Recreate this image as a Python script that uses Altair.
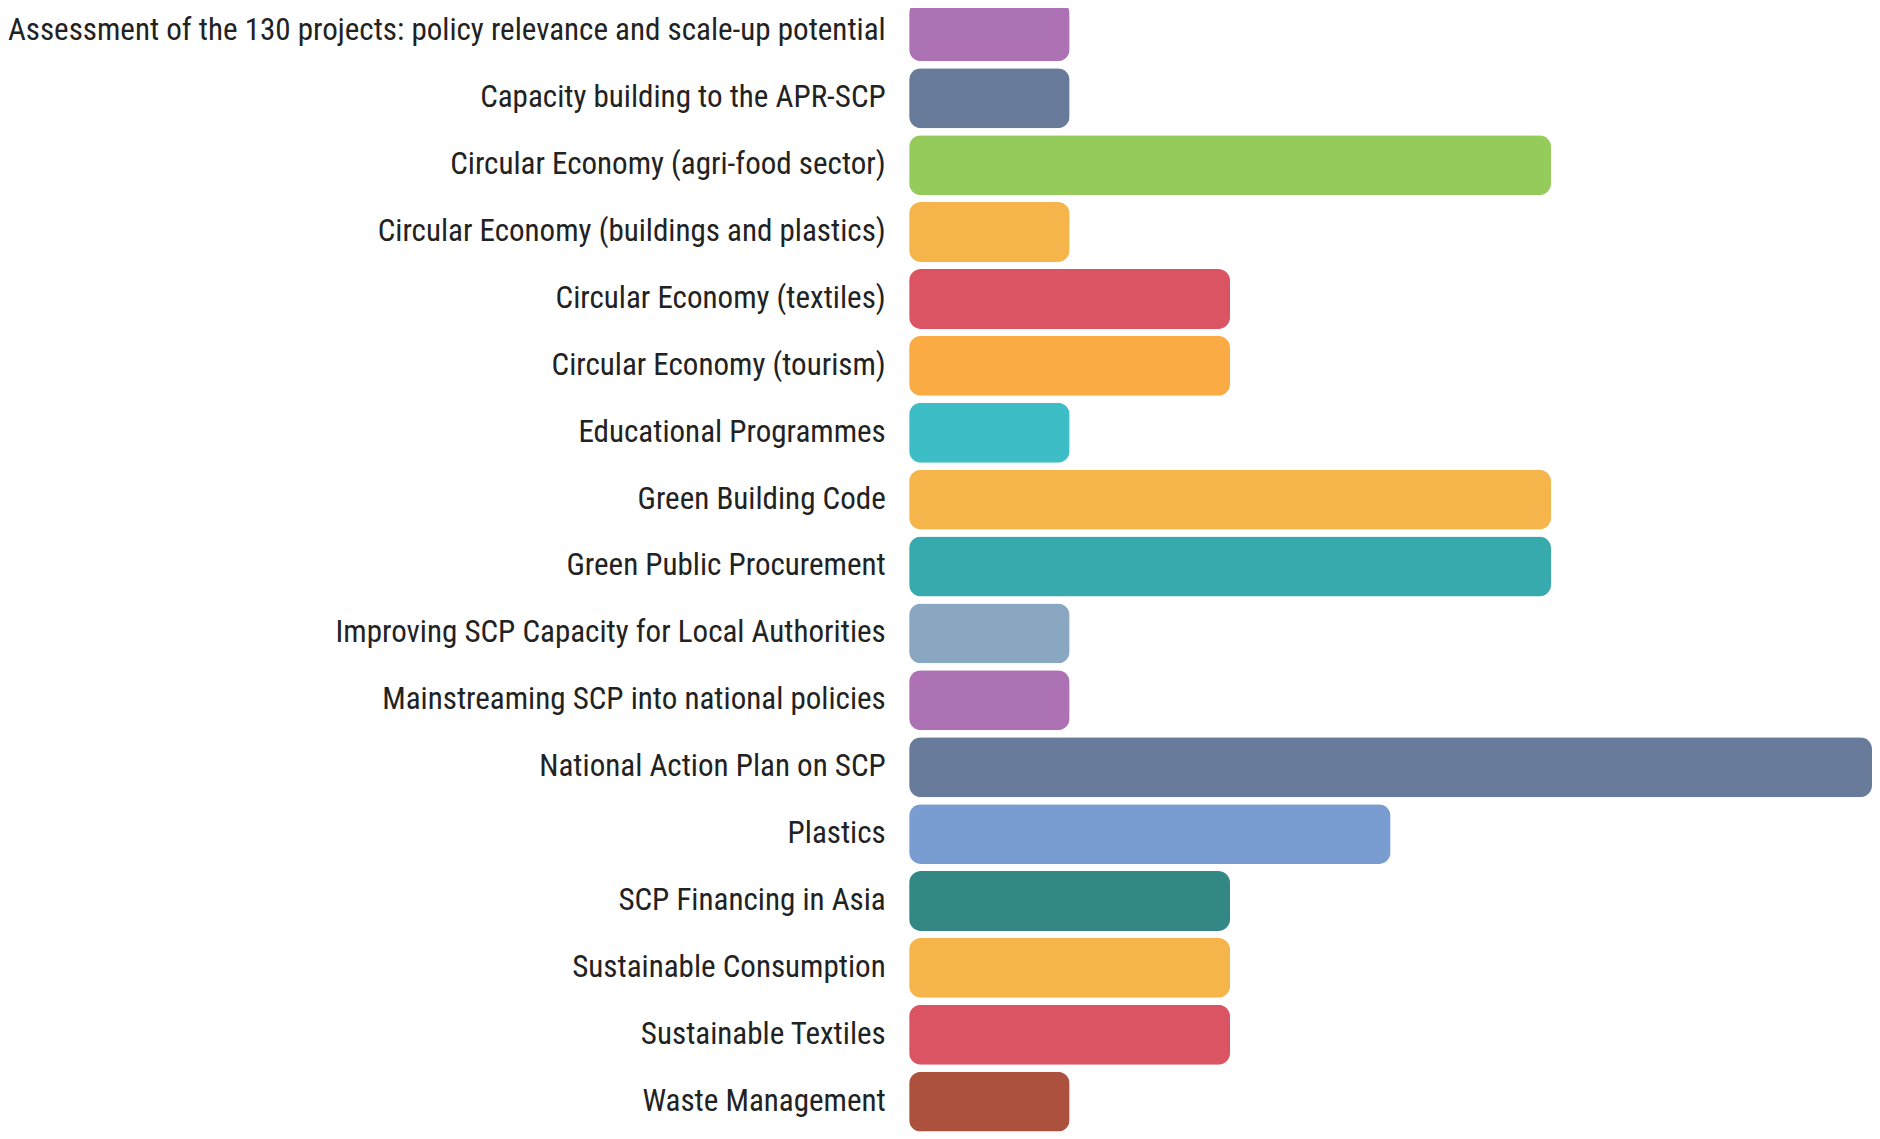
import altair as alt
import pandas as pd

categories = [
    "Assessment of the 130 projects: policy relevance and scale-up potential",
    "Capacity building to the APR-SCP",
    "Circular Economy (agri-food sector)",
    "Circular Economy (buildings and plastics)",
    "Circular Economy (textiles)",
    "Circular Economy (tourism)",
    "Educational Programmes",
    "Green Building Code",
    "Green Public Procurement",
    "Improving SCP Capacity for Local Authorities",
    "Mainstreaming SCP into national policies",
    "National Action Plan on SCP",
    "Plastics",
    "SCP Financing in Asia",
    "Sustainable Consumption",
    "Sustainable Textiles",
    "Waste Management",
]
values = [1, 1, 4, 1, 2, 2, 1, 4, 4, 1, 1, 6, 3, 2, 2, 2, 1]
colors = [
    "#ad72b3", "#687b9b", "#95cb5b", "#f5b54b", "#db5463", "#fbab43",
    "#3dbdc6", "#f5b54b", "#37aaad", "#89a7c1", "#ad72b3", "#687b9b",
    "#799dd0", "#338886", "#f5b54b", "#db5463", "#ab513e",
]

df = pd.DataFrame({"project": categories, "count": values})

FONT = "Roboto Condensed, Liberation Sans Narrow, Arial Narrow, DejaVu Sans Condensed, sans-serif"

chart = (
    alt.Chart(df)
    .mark_bar(cornerRadius=12)
    .encode(
        y=alt.Y(
            "project:N",
            sort=categories,
            title=None,
            scale=alt.Scale(paddingInner=0.105, paddingOuter=0),
            axis=alt.Axis(
                ticks=False,
                domain=False,
                labelPadding=24,
                labelFontSize=31.2,
                labelFont=FONT,
                labelColor="#222222",
                labelLimit=2000,
            ),
        ),
        x=alt.X(
            "count:Q",
            title=None,
            scale=alt.Scale(domain=[0, 6], nice=False),
            axis=None,
        ),
        color=alt.Color(
            "project:N",
            scale=alt.Scale(domain=categories, range=colors),
            legend=None,
        ),
    )
    .properties(
        width=967,
        height=1135,
        autosize=alt.AutoSizeParams(type="none"),
        padding={"left": 905, "top": -9, "right": 0, "bottom": 0},
    )
    .configure_view(stroke=None)
    .configure_axis(grid=False)
)

chart.save("out.html", embed_options={"renderer": "svg", "actions": False})
